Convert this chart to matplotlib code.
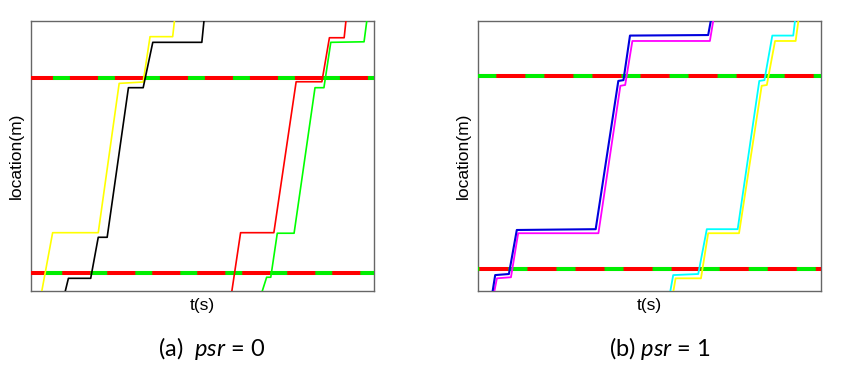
import matplotlib
matplotlib.use('Agg')
import matplotlib.pyplot as plt

plt.rcParams['lines.scale_dashes'] = False
plt.rcParams['mathtext.fontset'] = 'custom'
plt.rcParams['mathtext.rm'] = 'Lato'
plt.rcParams['mathtext.it'] = 'Lato:italic'

# trajectories (t in %, location in %)
# panel (a) psr = 0
a_yellow_t = [3.0, 6.3, 19.6, 25.7, 32.7, 34.7, 41.3, 41.9]
a_yellow_x = [-1.0, 21.6, 21.6, 76.9, 77.4, 94.2, 94.2, 101.0]
a_black_t = [9.9, 10.9, 17.4, 19.6, 22.2, 28.4, 32.7, 35.5, 49.8, 50.5]
a_black_x = [-0.5, 4.7, 4.7, 19.9, 19.9, 75.3, 75.3, 92.1, 92.1, 101.0]
a_red_t = [58.5, 61.1, 70.8, 77.3, 84.8, 87.0, 91.3, 91.9]
a_red_x = [-0.5, 21.6, 21.6, 77.5, 77.5, 93.8, 93.8, 101.0]
a_green_t = [67.3, 68.7, 69.9, 71.8, 76.7, 82.8, 85.4, 87.4, 97.1, 98.0]
a_green_x = [-0.5, 5.1, 5.1, 21.4, 21.4, 75.3, 75.3, 92.1, 92.3, 101.0]

# panel (b) psr = 1
b_blue_t = [4.2, 5.0, 9.0, 11.3, 34.3, 40.9, 42.4, 44.3, 67.1, 68.0]
b_blue_x = [-0.5, 5.9, 6.3, 22.6, 22.9, 77.8, 78.1, 94.6, 94.8, 101.0]
b_magenta_t = [4.7, 5.5, 9.6, 11.7, 35.1, 41.5, 42.9, 45.0, 67.6, 68.7]
b_magenta_x = [-0.5, 4.7, 5.1, 21.4, 21.4, 76.0, 76.3, 92.6, 92.6, 101.0]
b_cyan_t = [56.0, 56.9, 64.2, 66.7, 75.7, 82.0, 83.5, 85.8, 91.9, 92.5]
b_cyan_x = [-0.5, 5.9, 6.3, 22.9, 22.9, 77.8, 78.1, 94.6, 94.6, 101.0]
b_yellow_t = [56.9, 57.6, 65.0, 67.1, 76.1, 82.7, 84.2, 86.6, 92.6, 93.5]
b_yellow_x = [-0.5, 4.7, 4.7, 21.4, 21.4, 76.0, 76.3, 92.6, 92.6, 101.0]

# signal / intersection locations
a_stops = [78.9, 6.7]
b_stops = [79.6, 8.1]

fig = plt.figure(figsize=(8.5, 3.73), dpi=100)
ax1 = fig.add_axes([0.0365, 0.2198, 0.4035, 0.7239])
ax2 = fig.add_axes([0.5624, 0.2198, 0.4035, 0.7239])


def draw_stop(ax, y, offset, on, off):
    ax.axhline(y, color='#ff0000', lw=2.9, zorder=3)
    ax.axhline(y, color='#00ee00', lw=2.9, zorder=4,
               linestyle=(offset, (on, off)))


for yy, off in zip(a_stops, [16.6, 22.1]):
    draw_stop(ax1, yy, off, 12.2, 20.2)
for yy, off in zip(b_stops, [0.5, 12.7]):
    draw_stop(ax2, yy, off, 13.7, 20.9)

ax1.plot(a_yellow_t, a_yellow_x, color='#ffff00', lw=1.2, zorder=5)
ax1.plot(a_black_t, a_black_x, color='black', lw=1.2, zorder=5)
ax1.plot(a_red_t, a_red_x, color='#ff0000', lw=1.2, zorder=5)
ax1.plot(a_green_t, a_green_x, color='#00ff00', lw=1.2, zorder=5)

ax2.plot(b_magenta_t, b_magenta_x, color='#ff00ff', lw=1.3, zorder=5)
ax2.plot(b_blue_t, b_blue_x, color='#0000dd', lw=1.5, zorder=6)
ax2.plot(b_yellow_t, b_yellow_x, color='#ffff00', lw=1.3, zorder=5)
ax2.plot(b_cyan_t, b_cyan_x, color='#00ffff', lw=1.3, zorder=6)

for ax in (ax1, ax2):
    ax.set_xlim(0, 100)
    ax.set_ylim(0, 100)
    ax.set_xticks([])
    ax.set_yticks([])
    for s in ax.spines.values():
        s.set_color('#666666')
        s.set_linewidth(1.0)
    ax.set_xlabel('t(s)', fontsize=12.5, family='Liberation Sans')
    ax.set_ylabel('location(m)', fontsize=12.5, family='Liberation Sans')
    ax.xaxis.set_label_coords(0.5, -0.025)
    ax.yaxis.set_label_coords(-0.022, 0.5)

fig.text(0.249, 0.066, r'(a)  $\mathit{psr}$ = 0', fontsize=17,
         family='Lato', ha='center', va='center')
fig.text(0.776, 0.066, r'(b) $\mathit{psr}$ = 1', fontsize=17,
         family='Lato', ha='center', va='center')

fig.savefig('out.png', dpi=100)
